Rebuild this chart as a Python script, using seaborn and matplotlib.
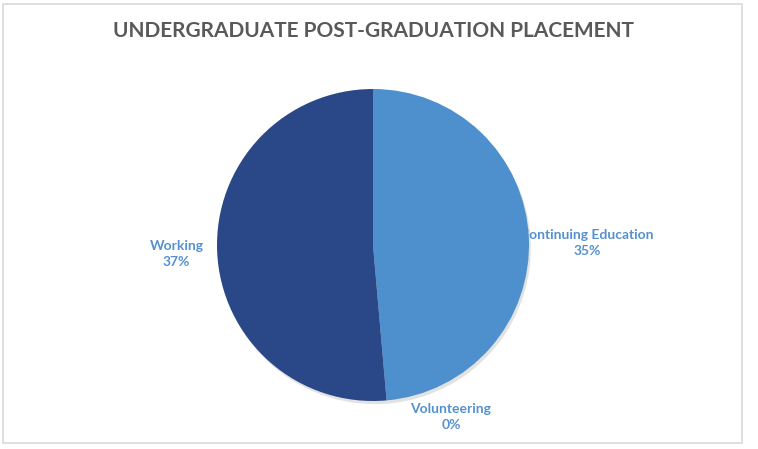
import matplotlib
matplotlib.use("Agg")
import matplotlib.pyplot as plt
from matplotlib.patches import Rectangle, Circle
import seaborn as sns

# Chart data
categories = ["Continuing Education", "Volunteering", "Working"]
values = [35, 0, 37]
pct_labels = ["35%", "0%", "37%"]

sns.set_theme(style="white")
plt.rcParams["font.family"] = ["Lato", "DejaVu Sans"]

colors = ["#4E8FCD", "#4E8FCD", "#2A4887"]
label_color = "#5591D0"

W, H = 758, 449
cx, cy, r = 373, 245, 156  # pie centre and radius in pixels

fig = plt.figure(figsize=(W / 100, H / 100), dpi=100)
fig.patch.set_facecolor("white")
ax = fig.add_axes([0, 0, 1, 1])

# soft shadow under the pie
ax.add_patch(Circle((0.012, -0.02), 1.0, color="#bfbfbf", alpha=0.45, zorder=1, lw=0))

wedges, _ = ax.pie(values, colors=colors, startangle=90, counterclock=False,
                   wedgeprops=dict(linewidth=0), radius=1.0)
for w in wedges:
    w.set_zorder(3)

ax.set_xlim(-cx / r, (W - cx) / r)
ax.set_ylim(-(H - cy) / r, cy / r)
ax.set_aspect("equal", adjustable="box")
ax.axis("off")

# data labels (placed like Excel's best fit)
label_pos = {"Continuing Education": (1.37, 0.01),
             "Volunteering": (0.50, -1.10),
             "Working": (-1.26, -0.06)}
for cat, pct in zip(categories, pct_labels):
    x, y = label_pos[cat]
    ax.text(x, y, f"{cat}\n{pct}", ha="center", va="center", fontsize=10,
            fontweight="bold", color=label_color, linespacing=1.4, zorder=2)

fig.text(373.5 / W, 1 - 31 / H, "UNDERGRADUATE POST-GRADUATION PLACEMENT",
         ha="center", va="center", fontsize=15, fontweight="bold", color="#595959")

fig.patches.append(Rectangle((3 / W, 1 - 443 / H), 739 / W, 439 / H, transform=fig.transFigure,
                             fill=False, edgecolor="#D9D9D9", linewidth=1.2))

fig.savefig("out.png", dpi=100)
